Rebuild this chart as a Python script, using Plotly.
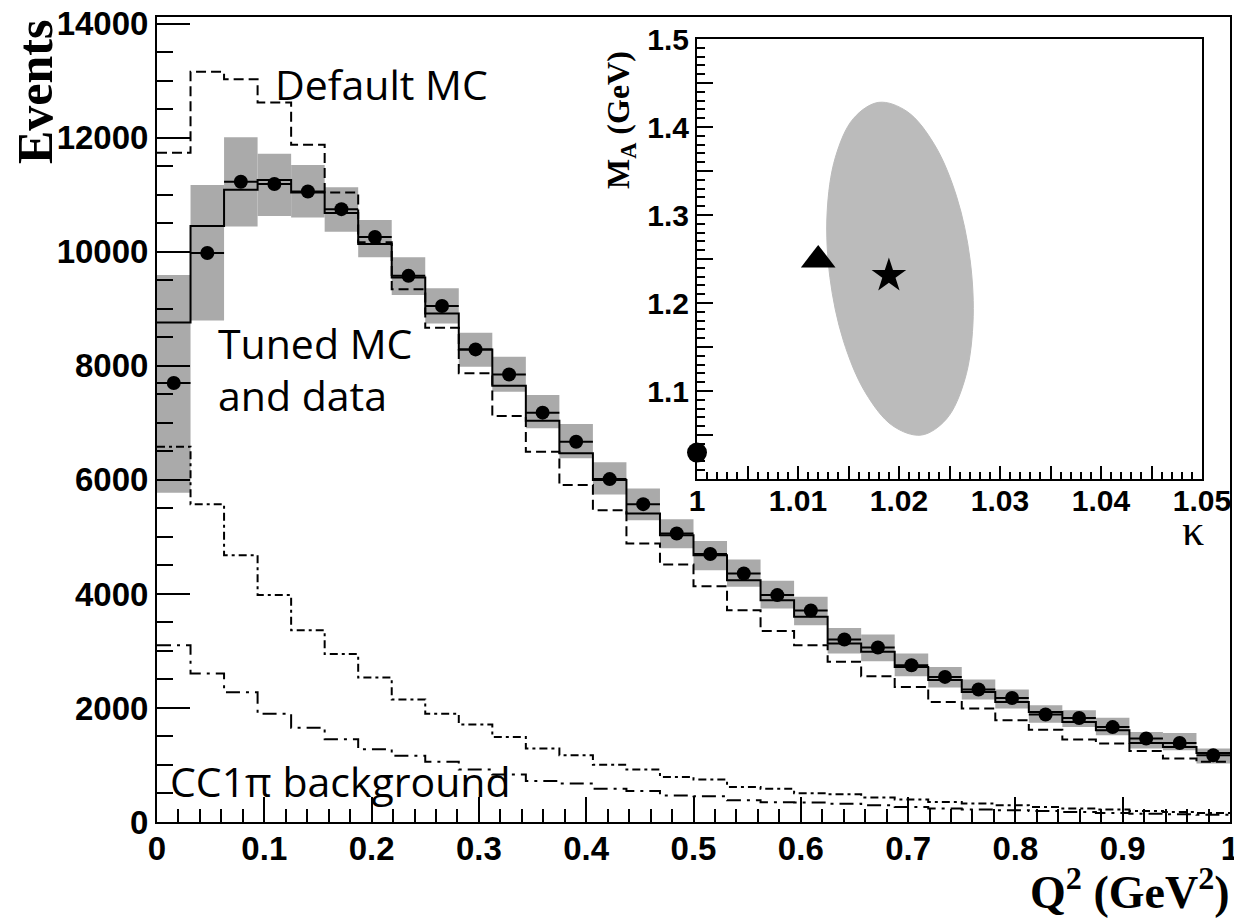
import numpy as np
import plotly.graph_objects as go

# ---------------- data ----------------
n_bins = 32
q2_min, q2_max = 0.0, 1.0

data_vals = [7700, 9980, 11230, 11190, 11060, 10750, 10260, 9580, 9050, 8290, 7850, 7180,
             6670, 6015, 5575, 5060, 4700, 4360, 3980, 3710, 3200, 3060, 2750, 2545,
             2325, 2175, 1885, 1825, 1665, 1465, 1385, 1170]

tuned_mc = [8760, 10455, 11090, 11260, 11040, 10680, 10140, 9550, 8920, 8290, 7650, 7040,
            6470, 6000, 5410, 5030, 4680, 4240, 3890, 3600, 3130, 2985, 2720, 2490,
            2280, 2105, 1930, 1755, 1610, 1385, 1315, 1210]

default_mc = [11740, 13160, 13030, 12620, 11880, 11040, 10170, 9345, 8670, 7870, 7120, 6495,
              5910, 5470, 4885, 4515, 4135, 3715, 3350, 3100, 2810, 2555, 2370, 2105,
              1990, 1785, 1620, 1445, 1375, 1245, 1115, 1055]

band_low = [5775, 8795, 10445, 10630, 10605, 10355, 9905, 9245, 8745, 7985, 7545, 6905,
            6380, 5745, 5295, 4800, 4415, 4125, 3745, 3450, 2955, 2820, 2555, 2360,
            2150, 1990, 1740, 1665, 1520, 1290, 1260, 1025]
band_high = [9595, 11175, 12010, 11720, 11525, 11135, 10560, 9905, 9360, 8580, 8160, 7490,
             6980, 6310, 5850, 5310, 4930, 4605, 4230, 3950, 3405, 3290, 2955, 2720,
             2500, 2325, 2050, 1960, 1830, 1580, 1560, 1290]

bkg_a = [6580, 5575, 4680, 3980, 3365, 2945, 2535, 2150, 1900, 1710, 1490, 1290,
         1170, 1005, 920, 790, 745, 615, 585, 505, 485, 430, 395, 350,
         325, 295, 265, 235, 220, 195, 175, 160]
bkg_b = [3100, 2605, 2275, 1900, 1655, 1450, 1275, 1160, 1055, 920, 835, 720,
         675, 585, 545, 465, 450, 380, 345, 340, 320, 295, 265, 235,
         220, 205, 195, 175, 160, 145, 135, 125]

# inset: fit contour and points
kappa_contour = [1.01799, 1.02081, 1.02352, 1.02571, 1.02704, 1.02732, 1.02650, 1.02470,
                 1.02220, 1.01939, 1.01668, 1.01449, 1.01316, 1.01288, 1.01370, 1.01550]
ma_contour = [1.4280, 1.4175, 1.3798, 1.3207, 1.2491, 1.1759, 1.1124, 1.0682,
              1.0499, 1.0604, 1.0981, 1.1573, 1.2289, 1.3020, 1.3655, 1.4098]

circle_pt = (1.000, 1.030)
triangle_pt = (1.012, 1.249)
star_pt = (1.019, 1.231)

inset_x_tickvals = [1.000, 1.005, 1.010, 1.015, 1.020, 1.025, 1.030, 1.035, 1.040, 1.045, 1.050]
inset_x_ticktext = ["1", "", "1.01", "", "1.02", "", "1.03", "", "1.04", "", "1.05"]
inset_y_tickvals = [1.00, 1.05, 1.10, 1.15, 1.20, 1.25, 1.30, 1.35, 1.40, 1.45, 1.50]
inset_y_ticktext = ["", "", "1.1", "", "1.2", "", "1.3", "", "1.4", "", "1.5"]

# ---------------- figure ----------------
edges = np.linspace(q2_min, q2_max, n_bins + 1)
centers = 0.5 * (edges[:-1] + edges[1:])
bw = edges[1] - edges[0]


def step(vals):
    return list(vals) + [vals[-1]]


fig = go.Figure()

fig.add_trace(go.Bar(
    x=centers, base=band_low, y=[h - l for h, l in zip(band_high, band_low)],
    width=bw, marker=dict(color="#aaaaaa", line=dict(width=0)),
    xaxis="x", yaxis="y", hoverinfo="skip"))

fig.add_trace(go.Scatter(x=edges, y=step(default_mc), mode="lines", line_shape="hv",
                         line=dict(color="black", width=2, dash="10px,5px")))
fig.add_trace(go.Scatter(x=edges, y=step(bkg_a), mode="lines", line_shape="hv",
                         line=dict(color="black", width=2, dash="8px,4px,3px,4px")))
fig.add_trace(go.Scatter(x=edges, y=step(bkg_b), mode="lines", line_shape="hv",
                         line=dict(color="black", width=2, dash="14px,6px,3px,6px")))
fig.add_trace(go.Scatter(x=edges, y=step(tuned_mc), mode="lines", line_shape="hv",
                         line=dict(color="black", width=2)))
fig.add_trace(go.Scatter(x=centers, y=data_vals, mode="markers",
                         marker=dict(color="black", size=14),
                         error_x=dict(type="constant", value=bw / 2, width=0,
                                      thickness=2, color="black")))

# inset
fig.add_trace(go.Scatter(x=kappa_contour + kappa_contour[:1], y=ma_contour + ma_contour[:1],
                         mode="lines", fill="toself", fillcolor="#bbbbbb",
                         line=dict(color="#bbbbbb", width=1, shape="spline", smoothing=1.0),
                         xaxis="x2", yaxis="y2"))
fig.add_trace(go.Scatter(x=[circle_pt[0]], y=[circle_pt[1]], mode="markers",
                         marker=dict(symbol="circle", size=20, color="black"),
                         cliponaxis=False, xaxis="x2", yaxis="y2"))
fig.add_trace(go.Scatter(x=[triangle_pt[0]], y=[triangle_pt[1]], mode="markers",
                         marker=dict(symbol="triangle-up", size=30, color="black"),
                         cliponaxis=False, xaxis="x2", yaxis="y2"))
fig.add_trace(go.Scatter(x=[star_pt[0]], y=[star_pt[1]], mode="markers",
                         marker=dict(symbol="star", size=26, color="black"),
                         cliponaxis=False, xaxis="x2", yaxis="y2"))

tick_font = dict(family="Liberation Sans", size=33, color="black", weight="bold")
inset_font = dict(family="Liberation Sans", size=30, color="black", weight="bold")

L, R, T, B = 157, 4, 17, 98
W, H = 1234, 920
PW, PH = W - L - R, H - T - B


def px(xp):
    return (xp - L) / PW


def py(yp):
    return (H - B - yp) / PH


common = dict(showgrid=False, zeroline=False, showline=True, linecolor="black",
              linewidth=2, mirror=True, ticks="inside", tickcolor="black", tickwidth=2,
              automargin=False, ticklabeloverflow="allow")

fig.update_layout(
    width=W, height=H, margin=dict(l=L, r=R, t=T, b=B, autoexpand=False),
    plot_bgcolor="white", paper_bgcolor="white", showlegend=False,
    xaxis=dict(domain=[0, 1], range=[q2_min, q2_max], dtick=0.1, tick0=0, ticklen=25,
               tickfont=tick_font, anchor="y", ticklabelstandoff=-4,
               minor=dict(ticks="inside", dtick=0.02, tick0=0, ticklen=13,
                          tickcolor="black", tickwidth=2), **common),
    yaxis=dict(domain=[0, 1], range=[0, 14120], dtick=2000, tick0=0, ticklen=33,
               tickformat="d", tickfont=tick_font, anchor="x",
               minor=dict(ticks="inside", dtick=500, tick0=0, ticklen=16,
                          tickcolor="black", tickwidth=2), **common),
    xaxis2=dict(domain=[px(697), px(1202)], range=[1.0, 1.05], anchor="y2",
                tickmode="array", tickvals=inset_x_tickvals, ticktext=inset_x_ticktext,
                ticklen=13, tickfont=inset_font, ticklabelstandoff=-6,
                minor=dict(ticks="inside", dtick=0.001, tick0=1.0, ticklen=7,
                           tickcolor="black", tickwidth=1.5), **common),
    yaxis2=dict(domain=[py(479), py(39)], range=[1.0, 1.5], anchor="x2",
                tickmode="array", tickvals=inset_y_tickvals, ticktext=inset_y_ticktext,
                ticklen=16, tickfont=inset_font,
                minor=dict(ticks="inside", dtick=0.01, tick0=1.0, ticklen=8,
                           tickcolor="black", tickwidth=1.5), **common),
)

label_font = dict(family="Open Sans", size=41, color="black")
serif_bold = dict(family="Liberation Serif", color="black", weight="bold")

annotations = [
    dict(text="Events", x=px(35), y=py(92), textangle=-90,
         font=dict(size=50, **serif_bold), xanchor="center", yanchor="middle"),
    dict(text="Q<sup>2</sup> (GeV<sup>2</sup>)", x=px(1232), y=py(889),
         font=dict(size=46, **serif_bold), xanchor="right", yanchor="middle"),
    dict(text="κ", x=px(1193), y=py(530),
         font=dict(size=44, family="Liberation Serif", color="black"),
         xanchor="center", yanchor="middle"),
    dict(text="M<sub>A</sub> (GeV)", x=px(621), y=py(120), textangle=-90,
         font=dict(size=32, **serif_bold), xanchor="center", yanchor="middle"),
    dict(text="Default MC", x=px(273), y=py(84), font=label_font,
         xanchor="left", yanchor="middle"),
    dict(text="Tuned MC", x=px(216), y=py(343), font=label_font,
         xanchor="left", yanchor="middle"),
    dict(text="and data", x=px(216), y=py(395), font=label_font,
         xanchor="left", yanchor="middle"),
    dict(text="CC1π background", x=px(168), y=py(781), font=label_font,
         xanchor="left", yanchor="middle"),
]
for a in annotations:
    a.update(xref="paper", yref="paper", showarrow=False)
fig.update_layout(annotations=annotations)

fig.write_html("out.html", config={"displayModeBar": False},
               post_script="document.body.style.margin='0';")
